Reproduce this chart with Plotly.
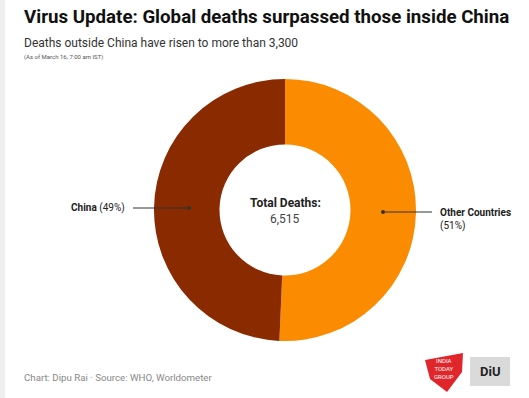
import plotly.graph_objects as go

categories = ["Other Countries", "China"]
deaths = [3302, 3213]
pct_labels = ["(51%)", "(49%)"]
colors = ["#FB8B00", "#8A2A00"]
total = "6,515"

W, H = 529, 398

def px(x):
    return x / W

def py(y):
    return 1 - y / H

cx, cy, r = 285, 210, 131

fig = go.Figure(go.Pie(
    labels=categories,
    values=deaths,
    hole=0.5,
    sort=False,
    direction="clockwise",
    rotation=0,
    marker=dict(colors=colors, line=dict(width=0)),
    textinfo="none",
    hoverinfo="label+value+percent",
    showlegend=False,
    domain=dict(x=[px(cx - r), px(cx + r)], y=[py(cy + r), py(cy - r)]),
))

logo_path = "M {} L {} L {} L {} L {} Z".format(
    *[f"{px(x)},{py(y)}" for x, y in [(425, 360), (463, 353), (462, 372), (447, 392), (430, 379)]]
)

shapes = [
    dict(type="rect", xref="paper", yref="paper", x0=0, x1=px(5), y0=0, y1=1,
         fillcolor="#EFEFEF", line=dict(width=0), layer="below"),
    dict(type="line", xref="paper", yref="paper", x0=px(133), x1=px(189), y0=py(208), y1=py(208),
         line=dict(color="#333333", width=1)),
    dict(type="circle", xref="paper", yref="paper", x0=px(187), x1=px(191), y0=py(206), y1=py(210),
         fillcolor="#333333", line=dict(width=0)),
    dict(type="line", xref="paper", yref="paper", x0=px(383), x1=px(432), y0=py(212), y1=py(212),
         line=dict(color="#333333", width=1)),
    dict(type="circle", xref="paper", yref="paper", x0=px(381), x1=px(385), y0=py(210), y1=py(214),
         fillcolor="#333333", line=dict(width=0)),
    dict(type="path", xref="paper", yref="paper", path=logo_path,
         fillcolor="#E0262B", line=dict(width=0)),
    dict(type="rect", xref="paper", yref="paper", x0=px(470), x1=px(510), y0=py(386), y1=py(357),
         fillcolor="#DADADA", line=dict(width=0)),
]

annotations = [
    dict(text="<b>Virus Update: Global deaths surpassed those inside China</b>", x=px(22), y=py(17),
         xanchor="left", yanchor="middle", font=dict(size=18.7, color="#111111", family="Roboto")),
    dict(text="Deaths outside China have risen to more than 3,300", x=px(22), y=py(43),
         xanchor="left", yanchor="middle", font=dict(size=12, color="#333333", family="Roboto")),
    dict(text="(As of March 16, 7:00 am IST)", x=px(22), y=py(57),
         xanchor="left", yanchor="middle", font=dict(size=6, color="#555555", family="Roboto")),
    dict(text="<b>Total Deaths:</b>", x=px(cx), y=py(203), xanchor="center", yanchor="middle",
         font=dict(size=12, color="#222222", family="Roboto")),
    dict(text=total, x=px(cx), y=py(219), xanchor="center", yanchor="middle",
         font=dict(size=12, color="#444444", family="Roboto")),
    dict(text=f"<b>{categories[1]}</b> {pct_labels[1]}", x=px(127), y=py(208), xanchor="right", yanchor="middle",
         font=dict(size=10, color="#222222", family="Roboto")),
    dict(text=f"<b>{categories[0]}</b><br>{pct_labels[0]}", x=px(438), y=py(219), xanchor="left", yanchor="middle",
         align="left", font=dict(size=10, color="#222222", family="Roboto")),
    dict(text="Chart: Dipu Rai · Source: WHO, Worldometer", x=px(22), y=py(377), xanchor="left", yanchor="middle",
         font=dict(size=9.7, color="#888888", family="Roboto")),
    dict(text="INDIA<br>TODAY<br>GROUP", x=px(444), y=py(368), xanchor="center", yanchor="middle",
         font=dict(size=6, color="#FFFFFF", family="Roboto")),
    dict(text="<b>DiU</b>", x=px(490), y=py(371), xanchor="center", yanchor="middle",
         font=dict(size=13, color="#222222", family="Roboto")),
]

for a in annotations:
    a.update(xref="paper", yref="paper", showarrow=False)

fig.update_layout(
    width=W, height=H,
    margin=dict(l=0, r=0, t=0, b=0),
    paper_bgcolor="#FFFFFF",
    plot_bgcolor="#FFFFFF",
    shapes=shapes,
    annotations=annotations,
)

fig.write_html("out.html", config={"displayModeBar": False},
               post_script="document.body.style.margin='0';document.body.style.overflow='hidden';")
